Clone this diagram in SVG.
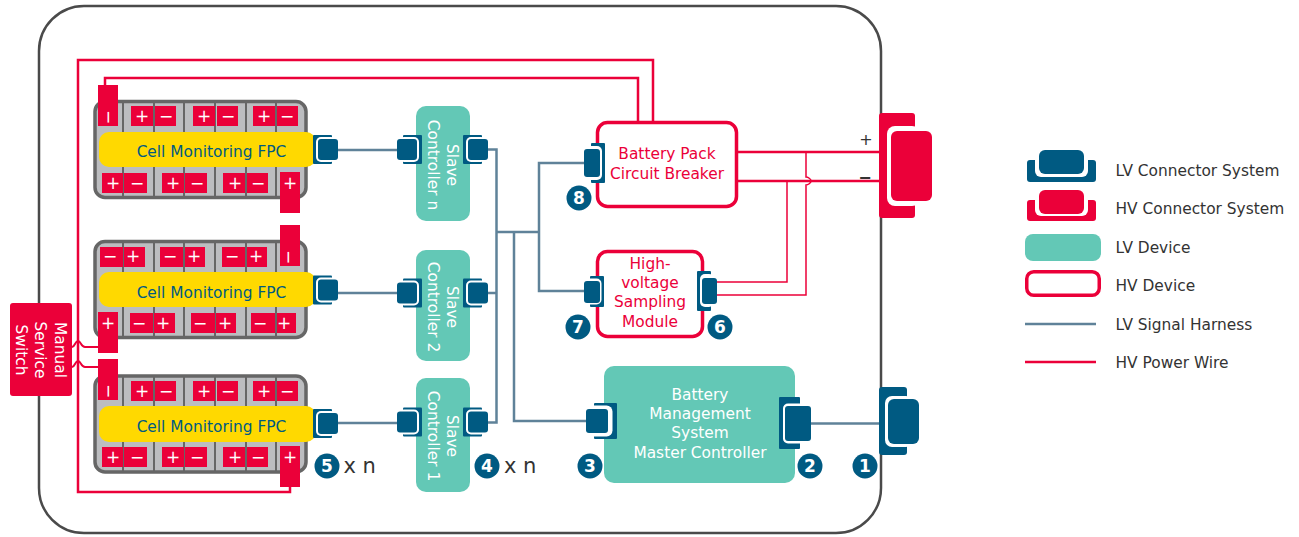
<svg xmlns="http://www.w3.org/2000/svg" xmlns:xlink="http://www.w3.org/1999/xlink" width="1299" height="537" viewBox="0 0 1299 537">
<style>
text{font-family:"DejaVu Sans","Liberation Sans",sans-serif;font-size:15.4px}
.m{text-anchor:middle}
.w{fill:#fff}.rt{fill:#eb0039}.bt{fill:#005a82}.k{fill:#333}
.pm{fill:#fff;text-anchor:middle;font-size:17px}
.r{fill:#eb0039}.b{fill:#005a82}.wh{fill:#fff}
.teal{fill:#63c8b6}
.hvd{fill:#fff;stroke:#eb0039;stroke-width:3.5}
.mod{fill:#bcbdc0;stroke:#666;stroke-width:3.5}
.div{stroke:#666;stroke-width:2;fill:none}
.fpc{fill:#ffd900}
.lv{fill:none;stroke:#5f8299;stroke-width:2.5}
.hv{fill:none;stroke:#eb0039;stroke-width:2.5}
.hvt{fill:none;stroke:#eb0039;stroke-width:1.5}
.num{fill:#fff;text-anchor:middle;font-weight:bold;font-size:17px}
.xn{fill:#333;font-size:21px}
</style>
<defs>
<g id="conn">
<rect x="0" y="-14.5" width="19" height="29" rx="1" class="b"/>
<rect x="3" y="-12.5" width="20" height="25" rx="5" class="wh"/>
<rect x="5" y="-10.5" width="20" height="21" rx="3" class="b"/>
</g>
</defs>
<rect id="frame" x="39" y="6" width="842" height="527" rx="45" fill="#fff" stroke="#4a4a4a" stroke-width="2.5"/>
<g id="connectors">
<path class="hv" d="M105 86V78H638V122"/>
<path class="hv" d="M290 486V492H78V60H653V122"/>
<path class="hvt" style="stroke-width:2" d="M72 347C75 347 75 341 78 341C81 341 81 347 85 347H99"/>
<path class="hvt" style="stroke-width:2" d="M72 367C75 367 75 361 78 361C81 361 81 367 85 367H99"/>
<path class="lv" d="M338 150H398M338 293H398M338 423H398"/>
<path class="lv" d="M488 149.5H496.500V422.500H488M488 293H496.500"/>
<path class="lv" d="M496.500 232H539M514 232V421H587"/>
<path class="lv" d="M585 163H539V291H585"/>
<path class="lv" d="M811 423.500H880"/>
<path class="hv" d="M738 152H880M738 181H880"/>
<path class="hvt" d="M716 282H787V181"/>
<path class="hvt" d="M716 295H806V185C808 185 811 183 811 181C811 179 808 177 806 177V152"/>
</g>
<g id="battery-module-1">
<rect class="mod" x="95" y="101.500" width="211" height="96" rx="10"/>
<path class="div" d="M123 101V198M154 101V198M184 101V198M215 101V198M246 101V198M276 101V198"/>
<rect class="fpc" x="99" y="132" width="217" height="35" rx="10"/>
<path class="r" d="M98 85h20v41h-20zM131 106h22v20h-22zM155 106h21v20h-21zM193 106h22v20h-22zM217 106h21v20h-21zM253 106h22v20h-22zM277 106h21v20h-21zM102 173h21v20h-21zM124 173h23v20h-23zM162 173h22v20h-22zM185 173h22v20h-22zM223 173h22v20h-22zM247 173h21v20h-21zM280 172h20v41h-20z"/>
<text class="pm" transform="rotate(90 109 117)" x="109" y="123">−</text>
<text class="pm" x="142" y="122">+</text><text class="pm" x="166" y="122">−</text><text class="pm" x="204" y="122">+</text><text class="pm" x="228" y="122">−</text><text class="pm" x="264" y="122">+</text><text class="pm" x="287" y="122">−</text>
<text class="pm" x="113" y="189">+</text><text class="pm" x="137" y="189">−</text><text class="pm" x="173" y="189">+</text><text class="pm" x="197" y="189">−</text><text class="pm" x="235" y="189">+</text><text class="pm" x="258" y="189">−</text><text class="pm" x="290" y="189">+</text>
<text class="bt m" x="211.500" y="157">Cell Monitoring FPC</text>
<use xlink:href="#conn" href="#conn" transform="translate(313 149.500)"/>
</g>
<g id="battery-module-2">
<rect class="mod" x="95" y="241.500" width="211" height="96" rx="10"/>
<path class="div" d="M123 241V338M154 241V338M184 241V338M215 241V338M246 241V338M276 241V338"/>
<rect class="fpc" x="99" y="272" width="217" height="35" rx="10"/>
<path class="r" d="M100 247h23v20h-23zM124 247h21v20h-21zM160 247h23v20h-23zM185 247h20v20h-20zM222 247h23v20h-23zM247 247h20v20h-20zM280 225h20v41h-20zM98 312h20v41h-20zM130 313h23v20h-23zM154 313h21v20h-21zM191 313h24v20h-24zM216 313h20v20h-20zM251 313h24v20h-24zM277 313h19v20h-19z"/>
<text class="pm" x="110" y="262">−</text><text class="pm" x="133" y="262">+</text><text class="pm" x="170" y="262">−</text><text class="pm" x="194" y="262">+</text><text class="pm" x="232" y="262">−</text><text class="pm" x="256" y="262">+</text>
<text class="pm" transform="rotate(90 289 257)" x="289" y="263">−</text>
<text class="pm" x="108" y="329">+</text><text class="pm" x="139" y="329">−</text><text class="pm" x="163" y="329">+</text><text class="pm" x="200" y="329">−</text><text class="pm" x="225" y="329">+</text><text class="pm" x="260" y="329">−</text><text class="pm" x="284" y="329">+</text>
<text class="bt m" x="211.500" y="298">Cell Monitoring FPC</text>
<use xlink:href="#conn" href="#conn" transform="translate(313 290)"/>
</g>
<g id="battery-module-3">
<rect class="mod" x="95" y="376" width="211" height="96" rx="10"/>
<path class="div" d="M123 375V473M154 375V473M184 375V473M215 375V473M246 375V473M276 375V473"/>
<rect class="fpc" x="99" y="406" width="217" height="36" rx="10"/>
<path class="r" d="M98 359h20v41h-20zM131 381h22v20h-22zM155 381h21v20h-21zM193 381h22v20h-22zM217 381h21v20h-21zM253 381h22v20h-22zM277 381h21v20h-21zM102 447h21v20h-21zM124 447h23v20h-23zM162 447h22v20h-22zM185 447h22v20h-22zM223 447h22v20h-22zM247 447h21v20h-21zM280 446h20v41h-20z"/>
<text class="pm" transform="rotate(90 109 391)" x="109" y="397">−</text>
<text class="pm" x="142" y="397">+</text><text class="pm" x="166" y="397">−</text><text class="pm" x="204" y="397">+</text><text class="pm" x="228" y="397">−</text><text class="pm" x="264" y="397">+</text><text class="pm" x="287" y="397">−</text>
<text class="pm" x="113" y="463">+</text><text class="pm" x="137" y="463">−</text><text class="pm" x="173" y="463">+</text><text class="pm" x="197" y="463">−</text><text class="pm" x="235" y="463">+</text><text class="pm" x="258" y="463">−</text><text class="pm" x="290" y="463">+</text>
<text class="bt m" x="211.500" y="432">Cell Monitoring FPC</text>
<use xlink:href="#conn" href="#conn" transform="translate(313 423.500)"/>
</g>
<g id="manual-service-switch">
<rect class="r" x="10" y="303" width="62" height="93" rx="3"/>
<text class="w m" transform="rotate(90 54.500 350)" x="54.500" y="350">Manual</text>
<text class="w m" transform="rotate(90 34.500 350)" x="34.500" y="350">Service</text>
<text class="w m" transform="rotate(90 15.500 350)" x="15.500" y="350">Switch</text>
</g>
<g id="slave-controller-n">
<rect class="teal" x="416" y="106" width="54" height="115" rx="10"/>
<text class="w m" transform="rotate(90 446.500 165)" x="446.500" y="165">Slave</text>
<text class="w m" transform="rotate(90 427.500 165)" x="427.500" y="165">Controller n</text>
<use xlink:href="#conn" href="#conn" transform="translate(422 149.500) scale(-1 1)"/>
<use xlink:href="#conn" href="#conn" transform="translate(463 149.500)"/>
</g>
<g id="slave-controller-2">
<rect class="teal" x="416" y="250" width="54" height="111" rx="10"/>
<text class="w m" transform="rotate(90 446.500 307)" x="446.500" y="307">Slave</text>
<text class="w m" transform="rotate(90 427.500 307)" x="427.500" y="307">Controller 2</text>
<use xlink:href="#conn" href="#conn" transform="translate(422 293) scale(-1 1)"/>
<use xlink:href="#conn" href="#conn" transform="translate(463 293)"/>
</g>
<g id="slave-controller-1">
<rect class="teal" x="416" y="378" width="54" height="114" rx="10"/>
<text class="w m" transform="rotate(90 446.500 436)" x="446.500" y="436">Slave</text>
<text class="w m" transform="rotate(90 427.500 436)" x="427.500" y="436">Controller 1</text>
<use xlink:href="#conn" href="#conn" transform="translate(422 422) scale(-1 1)"/>
<use xlink:href="#conn" href="#conn" transform="translate(463 422)"/>
</g>
<g id="circuit-breaker">
<rect class="hvd" x="597.500" y="122.500" width="139" height="84" rx="10"/>
<text class="rt m" x="667" y="159">Battery Pack</text>
<text class="rt m" x="667" y="179">Circuit Breaker</text>
<rect class="b" x="591" y="143" width="14" height="40" rx="1"/>
<rect class="wh" x="585" y="146" width="17" height="34" rx="5"/>
<rect class="b" x="584" y="149" width="16" height="28" rx="3"/>
</g>
<g id="sampling-module">
<rect class="hvd" x="597.500" y="251.500" width="105" height="85" rx="10"/>
<text class="rt m" x="650" y="269">High-</text>
<text class="rt m" x="650" y="288">voltage</text>
<text class="rt m" x="650" y="307">Sampling</text>
<text class="rt m" x="650" y="326.500">Module</text>
<rect class="b" x="590" y="276" width="14" height="31" rx="1"/>
<rect class="wh" x="585" y="278.500" width="16.500" height="26" rx="5"/>
<rect class="b" x="584" y="281" width="16" height="22" rx="3"/>
<rect class="b" x="697" y="271" width="14" height="40" rx="1"/>
<rect class="wh" x="700" y="274" width="14" height="33" rx="5"/>
<rect class="b" x="702" y="278" width="15" height="26" rx="3"/>
</g>
<g id="bms">
<rect class="teal" x="604" y="366" width="191" height="117" rx="10"/>
<text class="w m" x="700" y="400">Battery</text>
<text class="w m" x="700" y="419">Management</text>
<text class="w m" x="700" y="438">System</text>
<text class="w m" x="700" y="457.500">Master Controller</text>
<rect class="b" x="594" y="403" width="23" height="36" rx="1"/>
<rect class="wh" x="588" y="405.500" width="24.500" height="31" rx="6"/>
<rect class="b" x="586" y="409" width="22" height="24" rx="3"/>
<rect class="b" x="779" y="397" width="21" height="52" rx="1"/>
<rect class="wh" x="783" y="403.500" width="24" height="40" rx="5"/>
<rect class="b" x="785" y="406" width="26" height="35" rx="3"/>
</g>
<g id="lv-port">
<rect class="b" x="879" y="387" width="28" height="68" rx="3"/>
<rect class="wh" x="885" y="396" width="28" height="51" rx="7"/>
<rect class="b" x="888" y="399" width="31" height="45" rx="6"/>
</g>
<g id="hv-port">
<rect class="r" x="879" y="113" width="36" height="105" rx="3"/>
<rect class="wh" x="887" y="126" width="33" height="80" rx="8"/>
<rect class="r" x="891" y="131" width="41" height="70" rx="6"/>
<text class="k m" x="866" y="145" style="font-size:16px">+</text>
<text class="k m" x="865" y="183" style="font-size:16px;font-weight:bold">−</text>
</g>
<g id="badges">
<circle class="b" cx="579" cy="198" r="12.500"/><text class="num" x="579" y="204">8</text>
<circle class="b" cx="578" cy="327" r="12.500"/><text class="num" x="578" y="333">7</text>
<circle class="b" cx="720" cy="327" r="12.500"/><text class="num" x="720" y="333">6</text>
<circle class="b" cx="327" cy="466" r="12.500"/><text class="num" x="327" y="472">5</text>
<circle class="b" cx="487" cy="466" r="12.500"/><text class="num" x="487" y="472">4</text>
<circle class="b" cx="590" cy="466" r="12.500"/><text class="num" x="590" y="472">3</text>
<circle class="b" cx="810" cy="466" r="12.500"/><text class="num" x="810" y="472">2</text>
<circle class="b" cx="865" cy="466" r="12.500"/><text class="num" x="865" y="472">1</text>
<text class="xn" x="343.500" y="473">x n</text>
<text class="xn" x="504" y="473">x n</text>
</g>
<g id="legend">
<rect class="b" x="1027" y="160" width="69" height="22" rx="3"/>
<rect class="wh" x="1035" y="145" width="53" height="32" rx="6"/>
<rect class="b" x="1039" y="150" width="45" height="24" rx="6"/>
<text class="k" x="1115.500" y="176">LV Connector System</text>
<rect class="r" x="1027" y="200" width="69" height="21" rx="3"/>
<rect class="wh" x="1035" y="185" width="53" height="31" rx="6"/>
<rect class="r" x="1039" y="190" width="45" height="24" rx="6"/>
<text class="k" x="1115.500" y="214">HV Connector System</text>
<rect class="teal" x="1025" y="234" width="76" height="27" rx="8"/>
<text class="k" x="1115.500" y="253">LV Device</text>
<rect class="hvd" x="1026.750" y="271.750" width="72.500" height="23.500" rx="7"/>
<text class="k" x="1115.500" y="291">HV Device</text>
<path class="lv" d="M1025 324H1096"/>
<text class="k" x="1115.500" y="330">LV Signal Harness</text>
<path class="hv" d="M1025 362H1096"/>
<text class="k" x="1115.500" y="368">HV Power Wire</text>
</g>
</svg>
